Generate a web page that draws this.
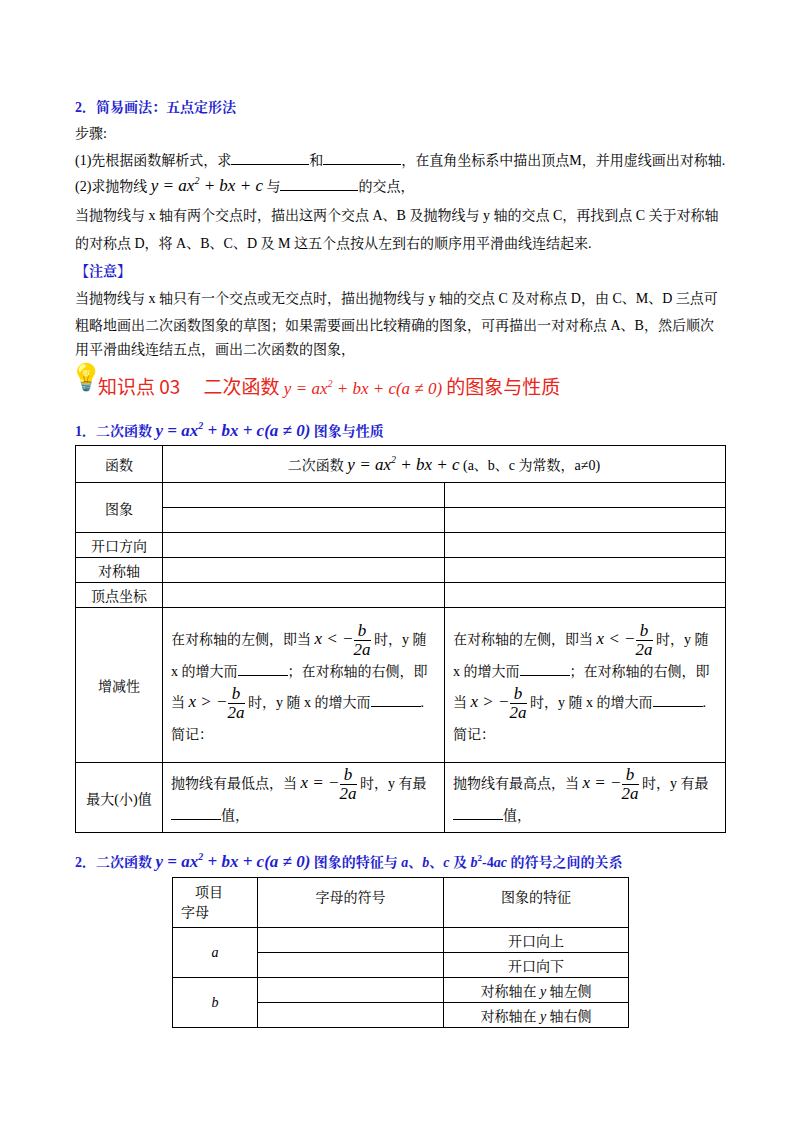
<!DOCTYPE html>
<html><head><meta charset="utf-8">
<script src="https://cdn.jsdelivr.net/npm/chart.js"></script>
<style>
body{margin:0;width:800px;height:1132px;background:#fff;font-family:"Liberation Serif","Noto Serif CJK SC","Noto Sans CJK SC",serif;font-size:14px;color:#000;position:relative}
.l{position:absolute;left:75px;white-space:nowrap}
.b{color:#1f1fd0;font-weight:bold}
.m{font-family:"Liberation Serif",serif;font-style:italic;font-size:17px}
.u{display:inline-block;border-bottom:1px solid #000;width:78px;height:14px}
.us{display:inline-block;border-bottom:1px solid #000;width:50px;height:14px}
table{position:absolute;border-collapse:collapse}
td{border:1px solid #000;padding:0 8px;vertical-align:middle}
.c{text-align:center}
.fr{display:inline-block;text-align:center;vertical-align:middle;font-family:"Liberation Serif",serif;font-style:italic;font-size:17px;line-height:18px}
.fr span{display:block}
.fr .n{border-bottom:1px solid #000}
.h{position:absolute;left:98px;top:372px;font-size:19px;color:#e8261a;font-family:"Noto Sans CJK SC",sans-serif}
</style></head><body>
<script>
const rows1 = ["函数","图象","开口方向","对称轴","顶点坐标","增减性","最大(小)值"];
const rows2 = ["开口向上","开口向下","对称轴在 <i>y</i> 轴左侧","对称轴在 <i>y</i> 轴右侧"];
</script>
<div class="l b" style="top:96px">2．简易画法：五点定形法</div>
<div class="l" style="top:122px">步骤:</div>
<div class="l" style="top:149px">(1)先根据函数解析式，求<span class="u"></span>和<span class="u"></span>，在直角坐标系中描出顶点M，并用虚线画出对称轴.</div>
<div class="l" style="top:175px">(2)求抛物线 <span class="m">y = ax<sup style="font-size:10px">2</sup> + bx + c</span> 与<span class="u"></span>的交点，</div>
<div class="l" style="top:204px">当抛物线与 x 轴有两个交点时，描出这两个交点 A、B 及抛物线与 y 轴的交点 C，再找到点 C 关于对称轴</div>
<div class="l" style="top:232px">的对称点 D，将 A、B、C、D 及 M 这五个点按从左到右的顺序用平滑曲线连结起来.</div>
<div class="l b" style="top:260px">【注意】</div>
<div class="l" style="top:287px">当抛物线与 x 轴只有一个交点或无交点时，描出抛物线与 y 轴的交点 C 及对称点 D，由 C、M、D 三点可</div>
<div class="l" style="top:314px">粗略地画出二次函数图象的草图；如果需要画出比较精确的图象，可再描出一对对称点 A、B，然后顺次</div>
<div class="l" style="top:338px">用平滑曲线连结五点，画出二次函数的图象，</div>
<div style="position:absolute;left:70px;top:362px;font-size:26px">💡</div>
<div class="h">知识点 03　 二次函数 <span class="m" style="font-size:17px">y = ax<sup style="font-size:10px">2</sup> + bx + c(a ≠ 0)</span> 的图象与性质</div>
<div class="l b" style="top:420px">1．二次函数 <span class="m" style="font-weight:bold">y = ax<sup style="font-size:10px">2</sup> + bx + c(a ≠ 0)</span> 图象与性质</div>
<table id="t1" style="left:75px;top:445px;width:651px">
<colgroup><col style="width:87px"><col style="width:282px"><col></colgroup>
<tr style="height:37px"><td class="c">函数</td><td colspan="2" class="c">二次函数 <span class="m">y = ax<sup style="font-size:10px">2</sup> + bx + c</span> (a、b、c 为常数，a≠0)</td></tr>
<tr style="height:25px"><td class="c" rowspan="2">图象</td><td></td><td></td></tr>
<tr style="height:25px"><td></td><td></td></tr>
<tr style="height:25px"><td class="c">开口方向</td><td></td><td></td></tr>
<tr style="height:25px"><td class="c">对称轴</td><td></td><td></td></tr>
<tr style="height:25px"><td class="c">顶点坐标</td><td></td><td></td></tr>
<tr style="height:155px"><td class="c">增减性</td>
<td style="line-height:26px">在对称轴的左侧，即当 <span class="m">x &lt; −</span><span class="fr"><span class="n">b</span><span>2a</span></span> 时，y 随 x 的增大而<span class="us"></span>；在对称轴的右侧，即当 <span class="m">x &gt; −</span><span class="fr"><span class="n">b</span><span>2a</span></span> 时，y 随 x 的增大而<span class="us"></span>. 简记：</td>
<td style="line-height:26px">在对称轴的左侧，即当 <span class="m">x &lt; −</span><span class="fr"><span class="n">b</span><span>2a</span></span> 时，y 随 x 的增大而<span class="us"></span>；在对称轴的右侧，即当 <span class="m">x &gt; −</span><span class="fr"><span class="n">b</span><span>2a</span></span> 时，y 随 x 的增大而<span class="us"></span>. 简记：</td></tr>
<tr style="height:70px"><td class="c">最大(小)值</td>
<td style="line-height:26px">抛物线有最低点，当 <span class="m">x = −</span><span class="fr"><span class="n">b</span><span>2a</span></span> 时，y 有最<span class="us"></span>值，</td>
<td style="line-height:26px">抛物线有最高点，当 <span class="m">x = −</span><span class="fr"><span class="n">b</span><span>2a</span></span> 时，y 有最<span class="us"></span>值，</td></tr>
</table>
<div class="l b" style="top:851px">2．二次函数 <span class="m" style="font-weight:bold">y = ax<sup style="font-size:10px">2</sup> + bx + c(a ≠ 0)</span> 图象的特征与 <i>a</i>、<i>b</i>、<i>c</i> 及 <i>b</i><sup style="font-size:9px">2</sup>-4<i>ac</i> 的符号之间的关系</div>
<table style="left:172px;top:877px;width:457px">
<colgroup><col style="width:85px"><col style="width:186px"><col></colgroup>
<tr style="height:50px"><td style="line-height:20px">　项目<br>字母</td><td class="c" style="vertical-align:top;padding-top:8px">字母的符号</td><td class="c" style="vertical-align:top;padding-top:8px">图象的特征</td></tr>
<tr style="height:25px"><td class="c" rowspan="2"><i>a</i></td><td></td><td class="c" id="r0"></td></tr>
<tr style="height:25px"><td></td><td class="c" id="r1"></td></tr>
<tr style="height:25px"><td class="c" rowspan="2"><i>b</i></td><td></td><td class="c" id="r2"></td></tr>
<tr style="height:25px"><td></td><td class="c" id="r3"></td></tr>
</table>
<script>
rows2.forEach((t,i)=>{document.getElementById('r'+i).innerHTML=t;});
</script>
</body></html>
